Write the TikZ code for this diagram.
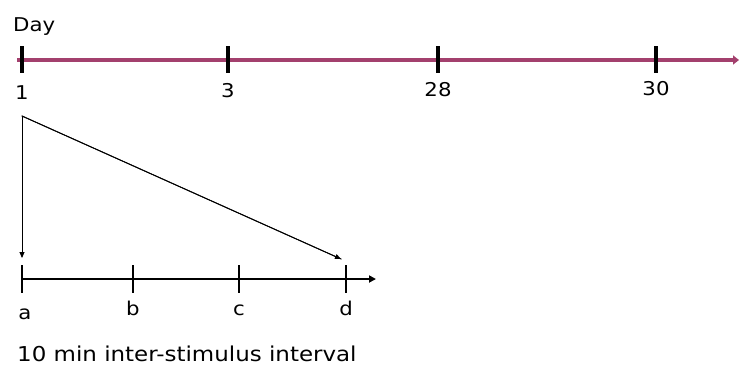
\documentclass[tikz,border=0pt]{standalone}
\usepackage{fontspec}
\setmainfont[FakeStretch=1.12]{DejaVu Sans}
\usetikzlibrary{arrows.meta}
\definecolor{maroonline}{HTML}{A3406D}
\begin{document}
\begin{tikzpicture}[x=1pt,y=-1pt,
  lbl/.style={inner sep=0pt,anchor=base,font=\fontsize{19}{21}\selectfont},
  tick/.style={line width=3.4pt,black},
  tickb/.style={line width=2.6pt,black},
  thin/.style={line width=0.9pt,-{Triangle[length=6pt,width=5pt]}}]
\useasboundingbox (0,0) rectangle (739,365);
% day axis
\coordinate (ds) at (17,60);
\coordinate (de) at (739,60);
\draw[maroonline,line width=3.2pt,-{Triangle[length=6pt,width=9pt]}] (ds) -- (de);
\foreach \n/\x in {t1/22,t3/228,t28/438,t30/656}{
  \coordinate (\n top) at (\x,46);
  \coordinate (\n bot) at (\x,73);
  \draw[tick] (\n top) -- (\n bot);
}
\node[lbl,anchor=base west] (day) at (13,31) {Day};
\node[lbl] (l1) at (22,99) {1};
\node[lbl] (l3) at (228,97) {3};
\node[lbl] (l28) at (438,96) {28};
\node[lbl] (l30) at (656,95) {30};
% session axis
\coordinate (ss) at (22,279);
\coordinate (se) at (376,279);
\draw[line width=2.3pt,-{Triangle[length=7pt,width=7pt]}] (ss) -- (se);
\foreach \n/\x in {ta/22,tb/133,tc/239,td/346}{
  \coordinate (\n top) at (\x,265);
  \coordinate (\n bot) at (\x,293);
  \draw[tickb] (\n top) -- (\n bot);
}
\node[lbl] (la) at (25,319) {a};
\node[lbl] (lb) at (133,315) {b};
\node[lbl] (lc) at (239,315) {c};
\node[lbl] (ld) at (346,315) {d};
% connectors
\coordinate (corner) at (22,116);
\coordinate (downtip) at (22,258);
\coordinate (dtip) at (341,259);
\draw[line width=0.9pt,line cap=rect] (corner) -- (dtip);
\draw[thin] (corner) -- (downtip);
\draw[thin] (corner) -- (dtip);
\node[lbl,anchor=base west,font=\fontsize{20.5}{22}\selectfont] (isi) at (17,361) {10 min inter-stimulus interval};
\end{tikzpicture}
\end{document}
